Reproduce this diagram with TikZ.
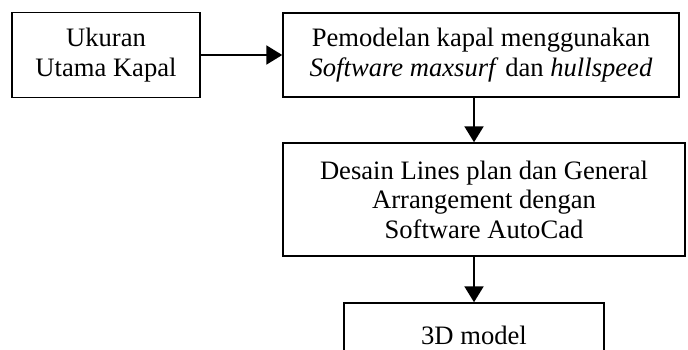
\documentclass[tikz,border=0pt]{standalone}
\usepackage{fontspec}
\setmainfont{Liberation Serif}
\usetikzlibrary{arrows.meta}
\begin{document}
\begin{tikzpicture}[x=0.5pt,y=-0.5pt,
  every node/.style={font=\fontsize{13.3}{14.8}\selectfont},
  line/.style={line width=1.1pt,-{Triangle[length=8pt,width=9.5pt]}}
]

\tikzstyle{box}=[draw,line width=0.75pt,rectangle,align=center,inner sep=0pt]

\useasboundingbox (0,0) rectangle (688,349);
\clip (0,0) rectangle (688,349);

\node [box,minimum width=94pt,minimum height=42.5pt] (b1) at (106,55) {Ukuran\\Utama Kapal};
\node [box,minimum width=198pt,minimum height=42pt] (b2) at (481,55)
  {Pemodelan kapal menggunakan\\\textit{Software maxsurf} dan \textit{hullspeed}};
\node [box,minimum width=201pt,minimum height=56.5pt] (b3) at (484,199.5)
  {Desain Lines plan dan General\\Arrangement dengan\\Software AutoCad};
\node [box,minimum width=130pt,minimum height=32pt,text depth=0pt] (b4) at (474,335) {3D model};

\draw [line] (b1) -- (b2);
\draw [line] (b2.south -| b4) -- (b3.north -| b4);
\draw [line] (b3.south -| b4) -- (b4);
\end{tikzpicture}
\end{document}
